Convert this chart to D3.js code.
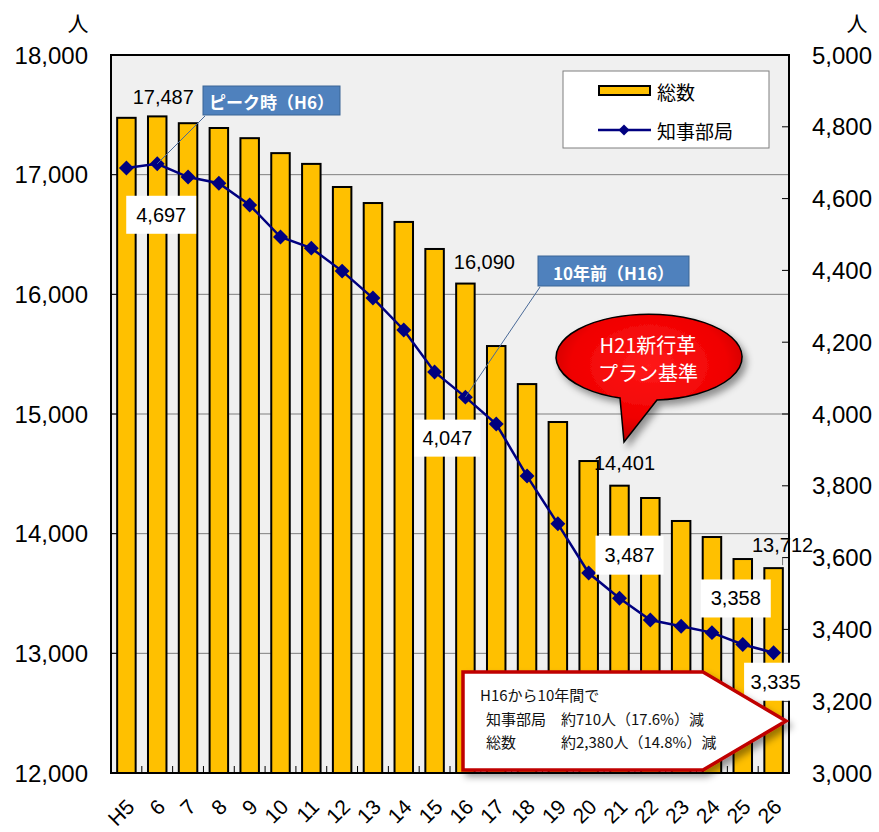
<!DOCTYPE html>
<html>
<head>
<meta charset="utf-8">
<script src="https://cdn.jsdelivr.net/npm/d3@7/dist/d3.min.js"></script>
<style>
  body { margin: 0; background: #fff; }
  svg { display: block; }
  .num { font-family: "Liberation Sans", Arial, sans-serif; fill: #000; }
  .jp { font-family: "Noto Sans CJK JP", sans-serif; }
</style>
</head>
<body>
<svg id="chart" width="879" height="832"></svg>
<script>
// Fiscal years (Heisei)
const years = ["H5","6","7","8","9","10","11","12","13","14","15","16","17","18","19","20","21","22","23","24","25","26"];
// Total staff (left axis)
const totalStaff = [17475,17487,17430,17390,17305,17180,17090,16897,16763,16605,16379,16090,15568,15250,14933,14607,14401,14298,14106,13972,13788,13712];
// Governor's departments (right axis)
const deptStaff = [4685,4697,4660,4643,4582,4493,4462,4398,4323,4234,4117,4047,3972,3827,3694,3557,3487,3426,3409,3391,3358,3335];
const leftTicks = [12000,13000,14000,15000,16000,17000,18000];
const rightTicks = [3000,3200,3400,3600,3800,4000,4200,4400,4600,4800,5000];

const svg = d3.select("#chart");
const m = { left: 111, right: 789, top: 55, bottom: 773 };
const W = m.right - m.left, H = m.bottom - m.top;

const x = d3.scaleBand().domain(years).range([m.left, m.right]).padding(0);
const yL = d3.scaleLinear().domain([12000, 18000]).range([m.bottom, m.top]);
const yR = d3.scaleLinear().domain([3000, 5000]).range([m.bottom, m.top]);
const fmt = d3.format(",");
const cx = d => x(d) + x.bandwidth() / 2;

// filters
const defs = svg.append("defs");
const sh = defs.append("filter").attr("id", "shadow").attr("x", "-20%").attr("y", "-20%").attr("width", "150%").attr("height", "160%");
sh.append("feDropShadow").attr("dx", 4).attr("dy", 5).attr("stdDeviation", 3.5).attr("flood-color", "#000").attr("flood-opacity", 0.4);
const rg = defs.append("radialGradient").attr("id", "bubbleFill").attr("cx", "50%").attr("cy", "40%").attr("r", "60%");
rg.append("stop").attr("offset", "0%").attr("stop-color", "#ff1a1a");
rg.append("stop").attr("offset", "70%").attr("stop-color", "#f00000");
rg.append("stop").attr("offset", "100%").attr("stop-color", "#c00000");

// plot background
svg.append("rect").attr("x", m.left).attr("y", m.top).attr("width", W).attr("height", H).attr("fill", "#f0f0f0");

// grid lines
svg.append("g").selectAll("line").data(leftTicks.slice(1, -1)).join("line")
  .attr("x1", m.left).attr("x2", m.right)
  .attr("y1", d => yL(d)).attr("y2", d => yL(d))
  .attr("stroke", "#7f7f7f").attr("stroke-width", 1);

// category ticks along the bottom
svg.append("g").selectAll("line").data(years.slice(1)).join("line")
  .attr("x1", d => x(d)).attr("x2", d => x(d))
  .attr("y1", m.bottom).attr("y2", m.bottom - 7)
  .attr("stroke", "#000").attr("stroke-width", 1);

// bars
const bw = x.bandwidth() * 0.6;
svg.append("g").selectAll("rect").data(years).join("rect")
  .attr("x", d => cx(d) - bw / 2)
  .attr("y", (d, i) => yL(totalStaff[i]))
  .attr("width", bw)
  .attr("height", (d, i) => m.bottom - yL(totalStaff[i]))
  .attr("fill", "#ffc000").attr("stroke", "#000").attr("stroke-width", 2);

// left axis ticks
svg.append("g").selectAll("line").data(leftTicks).join("line")
  .attr("x1", m.left).attr("x2", m.left + 7)
  .attr("y1", d => yL(d)).attr("y2", d => yL(d)).attr("stroke", "#000");
// right axis ticks
svg.append("g").selectAll("line").data(rightTicks).join("line")
  .attr("x1", m.right - 7).attr("x2", m.right)
  .attr("y1", d => yR(d)).attr("y2", d => yR(d)).attr("stroke", "#000");

// plot frame
svg.append("rect").attr("x", m.left).attr("y", m.top).attr("width", W).attr("height", H)
  .attr("fill", "none").attr("stroke", "#000").attr("stroke-width", 2);

// line series
const line = d3.line().x((d, i) => cx(years[i])).y(d => yR(d));
svg.append("path").datum(deptStaff).attr("d", line)
  .attr("fill", "none").attr("stroke", "#000080").attr("stroke-width", 2.5);
const diamond = d3.symbol(d3.symbolSquare, 112);
svg.append("g").selectAll("path").data(deptStaff).join("path")
  .attr("d", diamond)
  .attr("transform", (d, i) => `translate(${cx(years[i])},${yR(d)}) rotate(45)`)
  .attr("fill", "#000080");

// axis labels
svg.append("g").selectAll("text").data(leftTicks).join("text")
  .attr("class", "num").attr("x", 88).attr("y", d => yL(d))
  .attr("text-anchor", "end").attr("dominant-baseline", "central")
  .attr("font-size", 24).text(fmt);
svg.append("g").selectAll("text").data(rightTicks).join("text")
  .attr("class", "num").attr("x", 812).attr("y", d => yR(d))
  .attr("text-anchor", "start").attr("dominant-baseline", "central")
  .attr("font-size", 24).text(fmt);
svg.append("g").selectAll("text").data(years).join("text")
  .attr("class", "num").attr("font-size", 21)
  .attr("text-anchor", "end").attr("dominant-baseline", "central")
  .attr("transform", d => `translate(${cx(d) + 4},${803}) rotate(-45)`)
  .text(d => d);
svg.append("text").attr("class", "jp").attr("x", 78).attr("y", 22).attr("text-anchor", "middle")
  .attr("dominant-baseline", "central").attr("font-size", 21).text("人");
svg.append("text").attr("class", "jp").attr("x", 857).attr("y", 22).attr("text-anchor", "middle")
  .attr("dominant-baseline", "central").attr("font-size", 21).text("人");

// value labels on bars
const barLabels = [
  { i: 1, dx: 6, dy: -19 },
  { i: 11, dx: 19, dy: -22 },
  { i: 16, dx: 5, dy: -23 },
  { i: 21, dx: 9, dy: -23 }
];
svg.append("g").selectAll("text").data(barLabels).join("text")
  .attr("class", "num").attr("font-size", 20)
  .attr("x", d => cx(years[d.i]) + d.dx).attr("y", d => yL(totalStaff[d.i]) + d.dy)
  .attr("text-anchor", "middle").attr("dominant-baseline", "central")
  .text(d => fmt(totalStaff[d.i]));
svg.append("line").attr("x1", cx(years[21]) + 9).attr("x2", cx(years[21]) + 9)
  .attr("y1", yL(totalStaff[21]) - 11).attr("y2", yL(totalStaff[21]) - 3)
  .attr("stroke", "#555").attr("stroke-width", 0.8);

// value labels on the line, in white boxes
const lineLabels = [
  { i: 1, dx: 4, dy: 51, w: 70, h: 38 },
  { i: 11, dx: -18, dy: 41, w: 66, h: 37 },
  { i: 16, dx: 10, dy: -43, w: 68, h: 39 },
  { i: 20, dx: -7, dy: -46, w: 70, h: 38 },
  { i: 21, dx: 2, dy: 29, w: 63, h: 38 }
];
const ll = svg.append("g").selectAll("g").data(lineLabels).join("g")
  .attr("transform", d => `translate(${cx(years[d.i]) + d.dx},${yR(deptStaff[d.i]) + d.dy})`);
ll.append("rect").attr("x", d => -d.w / 2).attr("y", d => -d.h / 2)
  .attr("width", d => d.w).attr("height", d => d.h).attr("fill", "#fff");
ll.append("text").attr("class", "num").attr("font-size", 20)
  .attr("text-anchor", "middle").attr("dominant-baseline", "central")
  .text(d => fmt(deptStaff[d.i]));

// blue callouts
function callout(i, bx, by, bw2, bh, label) {
  svg.append("line")
    .attr("x1", bx + 2).attr("y1", by + bh + 1)
    .attr("x2", cx(years[i])).attr("y2", yR(deptStaff[i]))
    .attr("stroke", "#4a6a98").attr("stroke-width", 1);
  svg.append("rect").attr("x", bx).attr("y", by).attr("width", bw2).attr("height", bh)
    .attr("fill", "#4f81bd").attr("stroke", "#3a6595").attr("stroke-width", 1);
  svg.append("text").attr("class", "jp").attr("x", bx + bw2 / 2).attr("y", by + bh / 2 + 1)
    .attr("text-anchor", "middle").attr("dominant-baseline", "central")
    .attr("font-size", 17).attr("font-weight", "bold").attr("fill", "#fff").text(label);
}
callout(1, 203, 86, 137, 29, "ピーク時（H6）");
callout(11, 538, 256, 151, 30, "10年前（H16）");

// red speech bubble
svg.append("path")
  .attr("d", "M620,398 L624,442 L657,400 A93,43 0 1 0 620,398 Z")
  .attr("fill", "url(#bubbleFill)").attr("stroke", "#000").attr("stroke-width", 1.5)
  .attr("filter", "url(#shadow)");
svg.append("text").attr("class", "jp").attr("x", 648).attr("y", 344)
  .attr("text-anchor", "middle").attr("dominant-baseline", "central")
  .attr("font-size", 20).attr("fill", "#fff").text("H21新行革");
svg.append("text").attr("class", "jp").attr("x", 648).attr("y", 372)
  .attr("text-anchor", "middle").attr("dominant-baseline", "central")
  .attr("font-size", 20).attr("fill", "#fff").text("プラン基準");

// summary arrow box
svg.append("path")
  .attr("d", "M463,672 L703,672 L786,721 L703,770 L463,770 Z")
  .attr("fill", "#fff").attr("stroke", "#c00000").attr("stroke-width", 3.5)
  .attr("stroke-linejoin", "miter").attr("filter", "url(#shadow)");
const notes = [
  { x: 480, y: 694, t: "H16から10年間で" },
  { x: 486, y: 718, t: "知事部局　約710人（17.6%）減" },
  { x: 486, y: 741, t: "総数　　　約2,380人（14.8%）減" }
];
svg.append("g").selectAll("text").data(notes).join("text")
  .attr("class", "jp").attr("x", d => d.x).attr("y", d => d.y)
  .attr("dominant-baseline", "central").attr("font-size", 15).attr("fill", "#111")
  .attr("xml:space", "preserve").style("white-space", "pre")
  .text(d => d.t);

// legend
const lg = svg.append("g");
lg.append("rect").attr("x", 563).attr("y", 71).attr("width", 206).attr("height", 77)
  .attr("fill", "#fff").attr("stroke", "#7f7f7f").attr("stroke-width", 1);
lg.append("rect").attr("x", 599).attr("y", 86).attr("width", 51).attr("height", 9)
  .attr("fill", "#ffc000").attr("stroke", "#000").attr("stroke-width", 2);
lg.append("text").attr("class", "jp").attr("x", 657).attr("y", 91)
  .attr("dominant-baseline", "central").attr("font-size", 19).text("総数");
lg.append("line").attr("x1", 598).attr("x2", 651).attr("y1", 130).attr("y2", 130)
  .attr("stroke", "#000080").attr("stroke-width", 2.5);
lg.append("path").attr("d", d3.symbol(d3.symbolSquare, 60))
  .attr("transform", "translate(624,130) rotate(45)").attr("fill", "#000080");
lg.append("text").attr("class", "jp").attr("x", 657).attr("y", 130)
  .attr("dominant-baseline", "central").attr("font-size", 19).text("知事部局");
</script>
</body>
</html>
